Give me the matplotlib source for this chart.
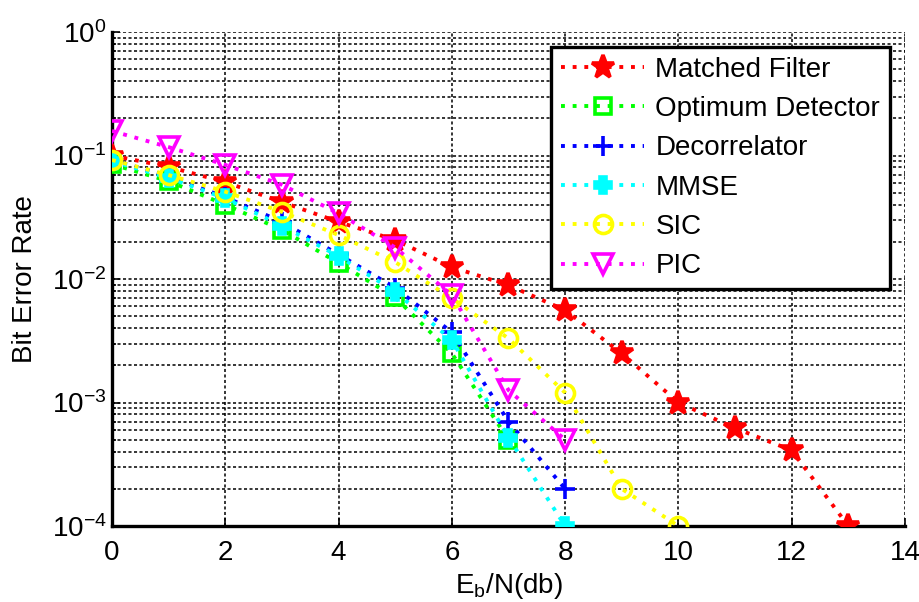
import matplotlib
matplotlib.use("Agg")
import matplotlib.pyplot as plt
import numpy as np
from matplotlib.ticker import LogLocator, NullFormatter, FixedLocator

plt.rcParams["font.family"] = ["Liberation Sans", "DejaVu Sans"]

# Eb/N (dB) grid for each detector
snr_mf = [0, 1, 2, 3, 4, 5, 6, 7, 8, 9, 10, 11, 12, 13]
ber_mf = [0.1, 0.081, 0.061, 0.042, 0.029, 0.0207, 0.0125, 0.0089, 0.0056,
          0.0025, 0.001, 0.00062, 0.00041, 0.0001]

snr_opt = [0, 1, 2, 3, 4, 5, 6, 7]
ber_opt = [0.085, 0.062, 0.04, 0.025, 0.0135, 0.0071, 0.0025, 0.0005]

snr_dec = [0, 1, 2, 3, 4, 5, 6, 7, 8]
ber_dec = [0.092, 0.068, 0.046, 0.029, 0.0158, 0.0085, 0.0037, 0.0007, 0.0002]

snr_mmse = [0, 1, 2, 3, 4, 5, 6, 7, 8]
ber_mmse = [0.09, 0.066, 0.045, 0.027, 0.0153, 0.0079, 0.0032, 0.00052, 0.0001]

snr_sic = [0, 1, 2, 3, 4, 5, 6, 7, 8, 9, 10]
ber_sic = [0.092, 0.0695, 0.051, 0.035, 0.0227, 0.0137, 0.007, 0.0033, 0.0012,
           0.0002, 0.0001]

snr_pic = [0, 1, 2, 3, 4, 5, 6, 7, 8]
ber_pic = [0.158, 0.117, 0.084, 0.058, 0.034, 0.018, 0.0074, 0.00126, 0.0005]

series = [
    ("Matched Filter", snr_mf, ber_mf, "#ff0000", "*", 17),
    ("Optimum Detector", snr_opt, ber_opt, "#00ff00", "s", 11),
    ("Decorrelator", snr_dec, ber_dec, "#0000ff", "+", 14),
    ("MMSE", snr_mmse, ber_mmse, "#00ffff", "P", 11),
    ("SIC", snr_sic, ber_sic, "#ffff00", "o", 13),
    ("PIC", snr_pic, ber_pic, "#ff00ff", "v", 14),
]

fs = 20

fig = plt.figure(figsize=(9.2, 6.02), dpi=100)
ax = fig.add_axes([0.1217, 0.1262, 0.862, 0.8206])

for label, x, y, c, m, ms in series:
    filled = m in ("*", "P")
    ax.semilogy(x, y, linestyle=(0, (1, 2.0)), lw=2.8, color=c, marker=m,
                markersize=ms, markeredgewidth=2.6,
                markerfacecolor=c if filled else "none",
                markeredgecolor=c, label=label, zorder=3)

ax.set_xlim(0, 14)
ax.set_ylim(1e-4, 1)
ax.xaxis.set_major_locator(FixedLocator(np.arange(0, 15, 2)))
ax.yaxis.set_major_locator(LogLocator(base=10, numticks=10))
ax.yaxis.set_minor_locator(LogLocator(base=10, subs=np.arange(2, 10), numticks=10))
ax.yaxis.set_minor_formatter(NullFormatter())

ax.grid(True, which="major", axis="both", color="black", linestyle=(0, (2, 1.6)), lw=1.1)
ax.grid(True, which="minor", axis="y", color="black", linestyle=(0, (2, 1.6)), lw=1.1)
ax.set_axisbelow(True)

for side in ("top", "right"):
    ax.spines[side].set_visible(False)
for side in ("left", "bottom"):
    ax.spines[side].set_linewidth(2.4)

ax.tick_params(which="both", direction="in", labelsize=fs, width=1.2)
ax.tick_params(which="major", length=6)
ax.tick_params(which="minor", length=3)
ax.tick_params(axis="x", pad=10)
ax.tick_params(axis="y", pad=4)

ax.set_ylabel("Bit Error Rate", fontsize=fs, labelpad=10)
ax.set_xlabel(r"E$_\mathregular{b}$/N(db)", fontsize=fs, labelpad=4)

leg = ax.legend(loc="upper right", bbox_to_anchor=(0.981, 0.970), fontsize=fs,
                frameon=True, fancybox=False, edgecolor="black", framealpha=1,
                handlelength=3.0, labelspacing=0.48, borderpad=0.35,
                handletextpad=0.4, borderaxespad=0)
leg.get_frame().set_linewidth(2.4)

fig.savefig("out.png", dpi=100)
